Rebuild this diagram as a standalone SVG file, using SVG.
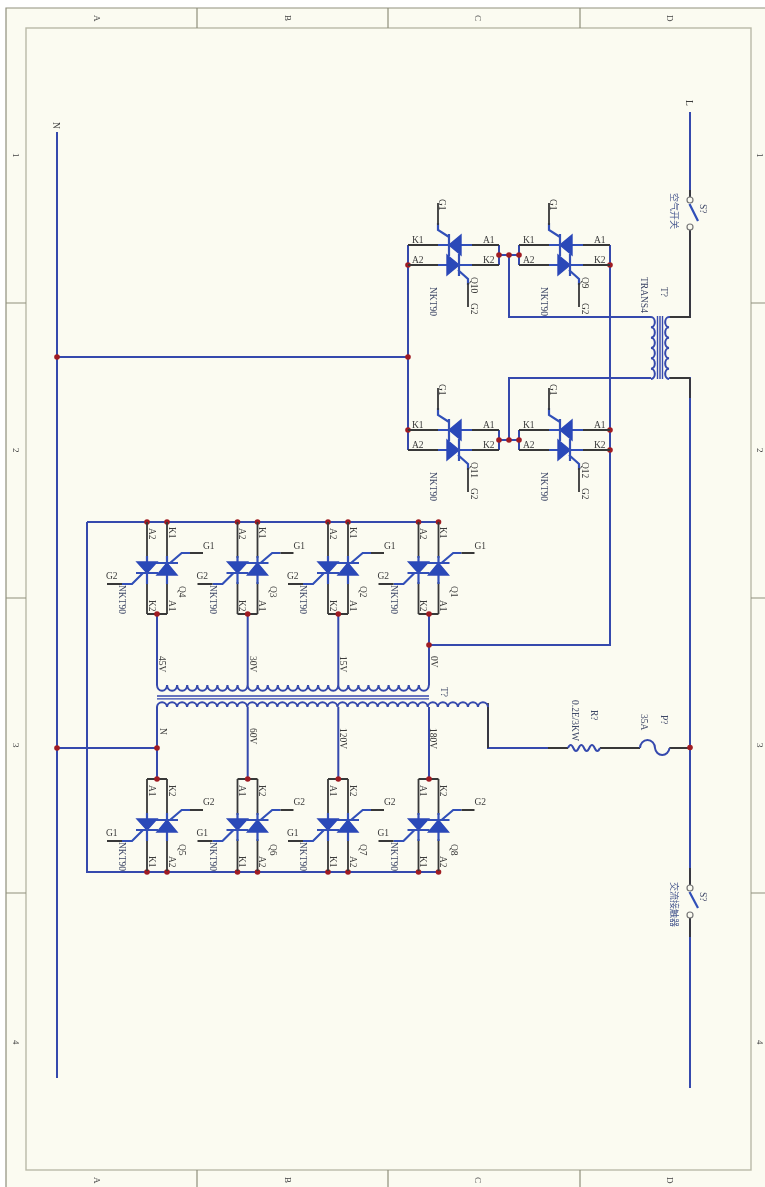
<svg xmlns="http://www.w3.org/2000/svg" width="765" height="1187" viewBox="0 0 765 1187">
<style>
text{font-family:"Liberation Serif","Noto Sans CJK SC",serif;font-size:9.5px;fill:#3a3a3a}
.d{fill:#3d4666}
.c{font-size:9px;fill:#4a5a90}
.z{fill:#444;font-size:9px}
.w{fill:none;stroke:#3448ad;stroke-width:2}
.p{fill:none;stroke:#383838;stroke-width:1.8}
.s{fill:#2c48b8;stroke:#2c48b8;stroke-width:1.4}
.b{fill:none;stroke:#3050b8;stroke-width:2.2}
.j{fill:#a01c22}
.o{fill:#fbfbf1;stroke:#777;stroke-width:1.2}
.f{fill:none;stroke:#8f8f7c;stroke-width:1.2}
.i{fill:none;stroke:#b9b9a8;stroke-width:1.4}
</style>
<defs>
<filter id="soft" filterUnits="userSpaceOnUse" x="0" y="0" width="765" height="1187"><feGaussianBlur stdDeviation="0.45"/></filter>
<g id="tv">
<path class="p" d="M0 0V36M20 0V36M0 60V92M20 60V92"/>
<path class="b" d="M0 34V62M20 34V62"/>
<path class="s" d="M-10 40H10L0 51ZM20 41L10 53H30Z"/>
<path class="b" d="M-11 51H11M9 41H31M-4 51L-15 62H-25M23 41L34.7 31H43"/>
<path class="p" d="M-25 62H-40M43 31H56"/>
</g>
<g id="th">
<path class="p" d="M0 0H34M0 20H34M62 0H91M62 20H91"/>
<path class="b" d="M30 0H64M30 20H64"/>
<path class="s" d="M41 0L53 -10V10ZM39 10L51 20L39 30Z"/>
<path class="b" d="M41 -11V11M51 9V31M41 -8L30 -15V-22M50 25L60 34V40"/>
<path class="p" d="M30 -20V-42M60 38V62"/>
</g>
</defs>
<rect x="6" y="8" width="759" height="1179" fill="#fbfbf1"/>
<g filter="url(#soft)">
<g id="frame">
<path class="f" d="M765 8H6V1187"/>
<rect class="i" x="26" y="28" width="725" height="1142"/>
<path class="f" d="M197 8V28M388 8V28M580 8V28M197 1170V1187M388 1170V1187M580 1170V1187M6 303H26M6 598H26M6 893H26M751 303H765M751 598H765M751 893H765"/>
<text class="z" transform="translate(94 15) rotate(90)">A</text>
<text class="z" transform="translate(285 15) rotate(90)">B</text>
<text class="z" transform="translate(475 15) rotate(90)">C</text>
<text class="z" transform="translate(667 15) rotate(90)">D</text>
<text class="z" transform="translate(94 1177) rotate(90)">A</text>
<text class="z" transform="translate(285 1177) rotate(90)">B</text>
<text class="z" transform="translate(475 1177) rotate(90)">C</text>
<text class="z" transform="translate(667 1177) rotate(90)">D</text>
<text class="z" transform="translate(13 153) rotate(90)">1</text>
<text class="z" transform="translate(13 448) rotate(90)">2</text>
<text class="z" transform="translate(13 743) rotate(90)">3</text>
<text class="z" transform="translate(13 1040) rotate(90)">4</text>
<text class="z" transform="translate(757 153) rotate(90)">1</text>
<text class="z" transform="translate(757 448) rotate(90)">2</text>
<text class="z" transform="translate(757 743) rotate(90)">3</text>
<text class="z" transform="translate(757 1040) rotate(90)">4</text>
</g>
<g id="connectors">
<path class="w" d="M57 132V1078M690 112V200M690 227V317H669M651 317H509V255M690 885V378H669M651 378H509V440M690 915V1088"/>
<path class="w" d="M57 357H408M408 245V450M610 245V645H429M499 245V265M519 245V265M499 255H519M499 440H519M499 430V450M519 430V450"/>
<path class="w" d="M87 522H438M87 522V872H438M57 748H157"/>
<path class="w" d="M157 614V685M247.7 614V685M338.3 614V685M429 614V685M157 707V779M247.7 707V779M338.3 707V779M429 707V779"/>
<path class="w" d="M488 707V748H568M600 748H640M669.5 748H690"/>
<path class="p" d="M690 190V200M690 227V317H670M690 378H670M690 378V398M690 868V885M690 915V937M488 703V748M548 748H568M600 748H640M669.5 748H690"/>
<path class="p" d="M147 614H167M237.5 614H257.5M328 614H348M418.5 614H438.5M147 779H167M237.5 779H257.5M328 779H348M418.5 779H438.5"/>
<g class="j">
<circle cx="57" cy="357" r="2.8"/><circle cx="57" cy="748" r="2.8"/><circle cx="157" cy="748" r="2.8"/><circle cx="690" cy="747.5" r="2.8"/>
<circle cx="408" cy="265" r="2.8"/><circle cx="408" cy="357" r="2.8"/><circle cx="408" cy="430" r="2.8"/>
<circle cx="499" cy="255" r="2.8"/><circle cx="509" cy="255" r="2.8"/><circle cx="519" cy="255" r="2.8"/>
<circle cx="499" cy="440" r="2.8"/><circle cx="509" cy="440" r="2.8"/><circle cx="519" cy="440" r="2.8"/>
<circle cx="610" cy="265" r="2.8"/><circle cx="610" cy="430" r="2.8"/><circle cx="610" cy="450" r="2.8"/>
<circle cx="429" cy="645" r="2.8"/>
<circle cx="147" cy="522" r="2.8"/><circle cx="167" cy="522" r="2.8"/><circle cx="237.5" cy="522" r="2.8"/><circle cx="257.5" cy="522" r="2.8"/><circle cx="328" cy="522" r="2.8"/><circle cx="348" cy="522" r="2.8"/><circle cx="418.5" cy="522" r="2.8"/><circle cx="438.5" cy="522" r="2.8"/>
<circle cx="157" cy="614" r="2.8"/><circle cx="247.7" cy="614" r="2.8"/><circle cx="338.3" cy="614" r="2.8"/><circle cx="429" cy="614" r="2.8"/>
<circle cx="157" cy="779" r="2.8"/><circle cx="247.7" cy="779" r="2.8"/><circle cx="338.3" cy="779" r="2.8"/><circle cx="429" cy="779" r="2.8"/>
<circle cx="147" cy="872" r="2.8"/><circle cx="167" cy="872" r="2.8"/><circle cx="237.5" cy="872" r="2.8"/><circle cx="257.5" cy="872" r="2.8"/><circle cx="328" cy="872" r="2.8"/><circle cx="348" cy="872" r="2.8"/><circle cx="418.5" cy="872" r="2.8"/><circle cx="438.5" cy="872" r="2.8"/>
</g>
</g>
<g id="net-N"><text transform="translate(53 122) rotate(90)">N</text></g>
<g id="net-L"><text transform="translate(686 100) rotate(90)">L</text></g>
<g id="S1">
<path class="b" d="M689.5 204L698 221"/>
<circle class="o" cx="690" cy="200" r="3"/><circle class="o" cx="690" cy="227" r="3"/>
<text class="d" transform="translate(700 204) rotate(90)">S?</text>
<text class="c" transform="translate(671 193) rotate(90)">空气开关</text>
</g>
<g id="S2">
<path class="b" d="M689.5 892L698 908"/>
<circle class="o" cx="690" cy="888" r="3"/><circle class="o" cx="690" cy="915" r="3"/>
<text class="d" transform="translate(700 892) rotate(90)">S?</text>
<text class="c" transform="translate(671 882) rotate(90)">交流接触器</text>
</g>
<g id="T1">
<path class="w" d="M651 317a4 5.17 0 0 1 0 10.33a4 5.17 0 0 1 0 10.33a4 5.17 0 0 1 0 10.33a4 5.17 0 0 1 0 10.33a4 5.17 0 0 1 0 10.33a4 5.17 0 0 1 0 10.33"/>
<path class="w" d="M669 317a4 5.17 0 0 0 0 10.33a4 5.17 0 0 0 0 10.33a4 5.17 0 0 0 0 10.33a4 5.17 0 0 0 0 10.33a4 5.17 0 0 0 0 10.33a4 5.17 0 0 0 0 10.33"/>
<path class="w" style="stroke-width:1.4" d="M657.5 316V379M660 316V379M662.5 316V379"/>
<text class="d" transform="translate(661 287) rotate(90)">T?</text>
<text class="d" transform="translate(641 277) rotate(90)">TRANS4</text>
</g>
<g id="T2">
<path class="w" d="M157 685a5.04 6 0 0 0 10.07 0a5.04 6 0 0 0 10.07 0a5.04 6 0 0 0 10.07 0a5.04 6 0 0 0 10.07 0a5.04 6 0 0 0 10.07 0a5.04 6 0 0 0 10.07 0a5.04 6 0 0 0 10.07 0a5.04 6 0 0 0 10.07 0a5.04 6 0 0 0 10.07 0a5.04 6 0 0 0 10.07 0a5.04 6 0 0 0 10.07 0a5.04 6 0 0 0 10.07 0a5.04 6 0 0 0 10.07 0a5.04 6 0 0 0 10.07 0a5.04 6 0 0 0 10.07 0a5.04 6 0 0 0 10.07 0a5.04 6 0 0 0 10.07 0a5.04 6 0 0 0 10.07 0a5.04 6 0 0 0 10.07 0a5.04 6 0 0 0 10.07 0a5.04 6 0 0 0 10.07 0a5.04 6 0 0 0 10.07 0a5.04 6 0 0 0 10.07 0a5.04 6 0 0 0 10.07 0a5.04 6 0 0 0 10.07 0a5.04 6 0 0 0 10.07 0a5.04 6 0 0 0 10.07 0"/>
<path class="w" d="M157 707a5.02 5 0 0 1 10.03 0a5.02 5 0 0 1 10.03 0a5.02 5 0 0 1 10.03 0a5.02 5 0 0 1 10.03 0a5.02 5 0 0 1 10.03 0a5.02 5 0 0 1 10.03 0a5.02 5 0 0 1 10.03 0a5.02 5 0 0 1 10.03 0a5.02 5 0 0 1 10.03 0a5.02 5 0 0 1 10.03 0a5.02 5 0 0 1 10.03 0a5.02 5 0 0 1 10.03 0a5.02 5 0 0 1 10.03 0a5.02 5 0 0 1 10.03 0a5.02 5 0 0 1 10.03 0a5.02 5 0 0 1 10.03 0a5.02 5 0 0 1 10.03 0a5.02 5 0 0 1 10.03 0a5.02 5 0 0 1 10.03 0a5.02 5 0 0 1 10.03 0a5.02 5 0 0 1 10.03 0a5.02 5 0 0 1 10.03 0a5.02 5 0 0 1 10.03 0a5.02 5 0 0 1 10.03 0a5.02 5 0 0 1 10.03 0a5.02 5 0 0 1 10.03 0a5.02 5 0 0 1 10.03 0a5.02 5 0 0 1 10.03 0a5.02 5 0 0 1 10.03 0a5.02 5 0 0 1 10.03 0a5.02 5 0 0 1 10.03 0a5.02 5 0 0 1 10.03 0a5.02 5 0 0 1 10.03 0"/>
<path class="w" style="stroke-width:1.3" d="M157 696H429M157 698.8H429"/>
<text class="d" transform="translate(441 687) rotate(90)">T?</text>
<text transform="translate(159 656) rotate(90)">45V</text>
<text transform="translate(250 656) rotate(90)">30V</text>
<text transform="translate(340 656) rotate(90)">15V</text>
<text transform="translate(431 656) rotate(90)">0V</text>
<text transform="translate(160 728) rotate(90)">N</text>
<text transform="translate(250 728) rotate(90)">60V</text>
<text transform="translate(340 728) rotate(90)">120V</text>
<text transform="translate(430 728) rotate(90)">180V</text>
</g>
<g id="R1">
<path class="w" d="M568 748q2.67 -6 5.33 0t5.33 0t5.33 0t5.33 0t5.33 0t5.33 0"/>
<text class="d" transform="translate(591 710) rotate(90)">R?</text>
<text class="d" transform="translate(572 700) rotate(90)">0.2E/3KW</text>
</g>
<g id="F1">
<path class="w" d="M640 748a7.5 8 0 0 1 15 0a7.3 8 0 0 0 14.5 0"/>
<text class="d" transform="translate(661 715) rotate(90)">P?</text>
<text class="d" transform="translate(641 714) rotate(90)">35A</text>
</g>
<g id="Q10" transform="translate(408 245)"><use href="#th"/>
<text x="4" y="-2">K1</text><text x="75" y="-2">A1</text><text x="4" y="18">A2</text><text x="75" y="18">K2</text>
<text transform="translate(31 -46) rotate(90)">G1</text><text transform="translate(63 32) rotate(90)">Q10</text><text transform="translate(63 58) rotate(90)">G2</text><text class="d" transform="translate(22 42) rotate(90)">NKT90</text></g>
<g id="Q9" transform="translate(519 245)"><use href="#th"/>
<text x="4" y="-2">K1</text><text x="75" y="-2">A1</text><text x="4" y="18">A2</text><text x="75" y="18">K2</text>
<text transform="translate(31 -46) rotate(90)">G1</text><text transform="translate(63 32) rotate(90)">Q9</text><text transform="translate(63 58) rotate(90)">G2</text><text class="d" transform="translate(22 42) rotate(90)">NKT90</text></g>
<g id="Q11" transform="translate(408 430)"><use href="#th"/>
<text x="4" y="-2">K1</text><text x="75" y="-2">A1</text><text x="4" y="18">A2</text><text x="75" y="18">K2</text>
<text transform="translate(31 -46) rotate(90)">G1</text><text transform="translate(63 32) rotate(90)">Q11</text><text transform="translate(63 58) rotate(90)">G2</text><text class="d" transform="translate(22 42) rotate(90)">NKT90</text></g>
<g id="Q12" transform="translate(519 430)"><use href="#th"/>
<text x="4" y="-2">K1</text><text x="75" y="-2">A1</text><text x="4" y="18">A2</text><text x="75" y="18">K2</text>
<text transform="translate(31 -46) rotate(90)">G1</text><text transform="translate(63 32) rotate(90)">Q12</text><text transform="translate(63 58) rotate(90)">G2</text><text class="d" transform="translate(22 42) rotate(90)">NKT90</text></g>
<g id="Q4" transform="translate(147 522)"><use href="#tv"/>
<text transform="translate(1.5 6) rotate(90)">A2</text><text transform="translate(21.5 5) rotate(90)">K1</text><text transform="translate(1.5 78) rotate(90)">K2</text><text transform="translate(21.5 78) rotate(90)">A1</text>
<text x="-41" y="57">G2</text><text x="56" y="27">G1</text><text transform="translate(32 64) rotate(90)">Q4</text><text class="d" transform="translate(-28 63) rotate(90)">NKT90</text></g>
<g id="Q3" transform="translate(237.5 522)"><use href="#tv"/>
<text transform="translate(1.5 6) rotate(90)">A2</text><text transform="translate(21.5 5) rotate(90)">K1</text><text transform="translate(1.5 78) rotate(90)">K2</text><text transform="translate(21.5 78) rotate(90)">A1</text>
<text x="-41" y="57">G2</text><text x="56" y="27">G1</text><text transform="translate(32 64) rotate(90)">Q3</text><text class="d" transform="translate(-28 63) rotate(90)">NKT90</text></g>
<g id="Q2" transform="translate(328 522)"><use href="#tv"/>
<text transform="translate(1.5 6) rotate(90)">A2</text><text transform="translate(21.5 5) rotate(90)">K1</text><text transform="translate(1.5 78) rotate(90)">K2</text><text transform="translate(21.5 78) rotate(90)">A1</text>
<text x="-41" y="57">G2</text><text x="56" y="27">G1</text><text transform="translate(32 64) rotate(90)">Q2</text><text class="d" transform="translate(-28 63) rotate(90)">NKT90</text></g>
<g id="Q1" transform="translate(418.5 522)"><use href="#tv"/>
<text transform="translate(1.5 6) rotate(90)">A2</text><text transform="translate(21.5 5) rotate(90)">K1</text><text transform="translate(1.5 78) rotate(90)">K2</text><text transform="translate(21.5 78) rotate(90)">A1</text>
<text x="-41" y="57">G2</text><text x="56" y="27">G1</text><text transform="translate(32 64) rotate(90)">Q1</text><text class="d" transform="translate(-28 63) rotate(90)">NKT90</text></g>
<g id="Q5" transform="translate(147 779)"><use href="#tv"/>
<text transform="translate(1.5 6) rotate(90)">A1</text><text transform="translate(21.5 6) rotate(90)">K2</text><text transform="translate(1.5 77) rotate(90)">K1</text><text transform="translate(21.5 77) rotate(90)">A2</text>
<text x="-41" y="57">G1</text><text x="56" y="26">G2</text><text transform="translate(32 65) rotate(90)">Q5</text><text class="d" transform="translate(-28 63) rotate(90)">NKT90</text></g>
<g id="Q6" transform="translate(237.5 779)"><use href="#tv"/>
<text transform="translate(1.5 6) rotate(90)">A1</text><text transform="translate(21.5 6) rotate(90)">K2</text><text transform="translate(1.5 77) rotate(90)">K1</text><text transform="translate(21.5 77) rotate(90)">A2</text>
<text x="-41" y="57">G1</text><text x="56" y="26">G2</text><text transform="translate(32 65) rotate(90)">Q6</text><text class="d" transform="translate(-28 63) rotate(90)">NKT90</text></g>
<g id="Q7" transform="translate(328 779)"><use href="#tv"/>
<text transform="translate(1.5 6) rotate(90)">A1</text><text transform="translate(21.5 6) rotate(90)">K2</text><text transform="translate(1.5 77) rotate(90)">K1</text><text transform="translate(21.5 77) rotate(90)">A2</text>
<text x="-41" y="57">G1</text><text x="56" y="26">G2</text><text transform="translate(32 65) rotate(90)">Q7</text><text class="d" transform="translate(-28 63) rotate(90)">NKT90</text></g>
<g id="Q8" transform="translate(418.5 779)"><use href="#tv"/>
<text transform="translate(1.5 6) rotate(90)">A1</text><text transform="translate(21.5 6) rotate(90)">K2</text><text transform="translate(1.5 77) rotate(90)">K1</text><text transform="translate(21.5 77) rotate(90)">A2</text>
<text x="-41" y="57">G1</text><text x="56" y="26">G2</text><text transform="translate(32 65) rotate(90)">Q8</text><text class="d" transform="translate(-28 63) rotate(90)">NKT90</text></g>
</g>
</svg>
